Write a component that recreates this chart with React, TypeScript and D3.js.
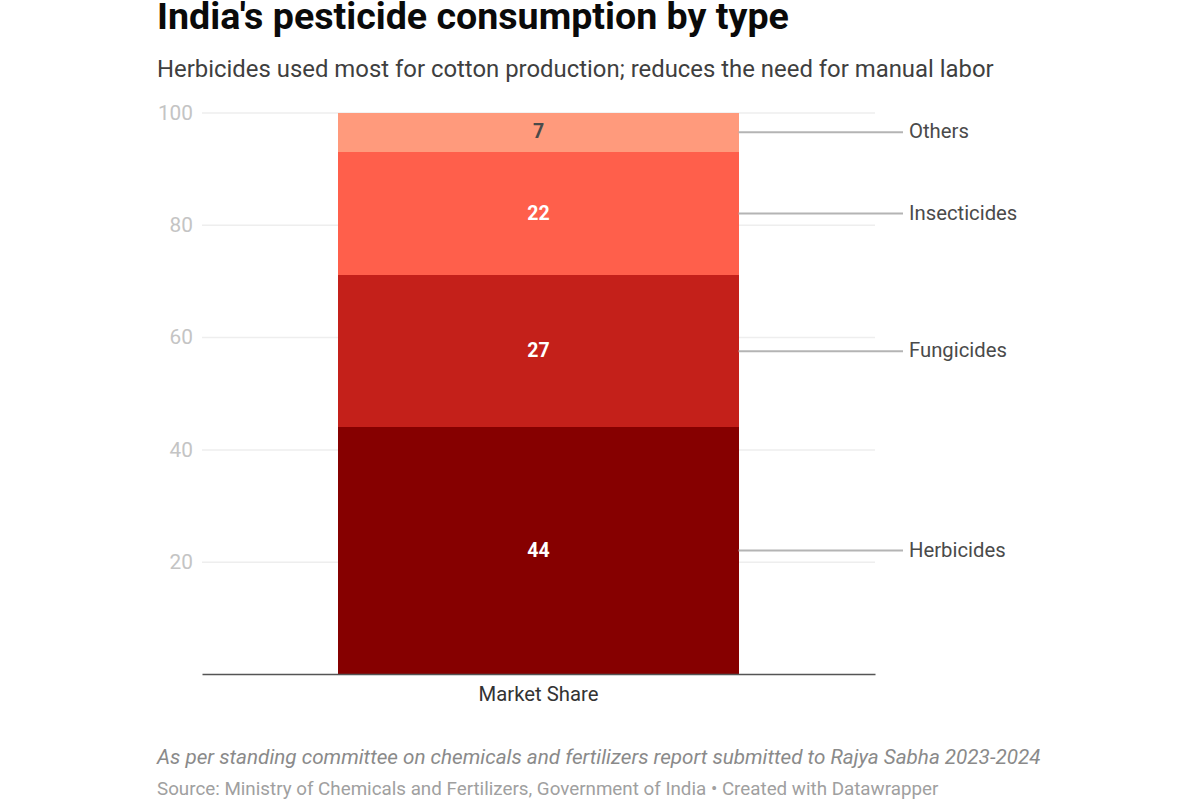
import { useEffect, useRef } from 'react';
import * as d3 from 'd3';

const types = ['Herbicides', 'Fungicides', 'Insecticides', 'Others'];
const shares = [44, 27, 22, 7];
const colors = ['#860000', '#c4201a', '#ff5f4b', '#ff9a7c'];
const valueColors = ['#ffffff', '#ffffff', '#ffffff', '#4a4a4a'];
const yTicks = [20, 40, 60, 80, 100];
const category = 'Market Share';

const title = "India's pesticide consumption by type";
const subtitle = 'Herbicides used most for cotton production; reduces the need for manual labor';
const note = 'As per standing committee on chemicals and fertilizers report submitted to Rajya Sabha 2023-2024';
const source = 'Source: Ministry of Chemicals and Fertilizers, Government of India • Created with Datawrapper';

const width = 1200;
const height = 800;
const font = 'Roboto, sans-serif';

const App = () => {
  const svgRef = useRef<SVGSVGElement>(null);

  useEffect(() => {
    if (!svgRef.current) return;
    const svg = d3.select(svgRef.current);
    svg.selectAll('*').remove();

    const plot = { left: 202, right: 875, top: 112.5, bottom: 674 };

    const x = d3
      .scaleBand()
      .domain([category])
      .range([plot.left, plot.right])
      .paddingInner(0)
      .paddingOuter(0.341);
    const y = d3.scaleLinear().domain([0, 100]).range([plot.bottom, plot.top]);

    // Header
    svg.append('text')
      .attr('x', 157).attr('y', 29)
      .attr('font-size', 37.6).attr('font-weight', 700).attr('fill', '#0a0a0a')
      .text(title);
    svg.append('text')
      .attr('x', 157).attr('y', 76.5)
      .attr('font-size', 23.9).attr('fill', '#3f3f3f')
      .text(subtitle);

    // Y axis with gridlines
    const yAxis = d3.axisLeft(y)
      .tickValues(yTicks)
      .tickSize(plot.left - plot.right)
      .tickPadding(9);
    const yGroup = svg.append('g')
      .attr('transform', `translate(${plot.left},0)`)
      .call(yAxis);
    yGroup.select('.domain').remove();
    yGroup.selectAll('line').attr('stroke', '#eeeeee').attr('stroke-width', 1.5);
    yGroup.selectAll('text')
      .attr('font-size', 20.8).attr('font-family', font).attr('fill', '#c4c4c4');

    // Stacked segments
    const rows = [Object.fromEntries(types.map((t, i) => [t, shares[i]]))];
    const stacked = d3.stack<Record<string, number>>().keys(types)(rows);
    const barX = x(category) as number;
    const barW = x.bandwidth();

    stacked.forEach((layer, i) => {
      const [y0, y1] = layer[0];
      const mid = y((y0 + y1) / 2);
      svg.append('rect')
        .attr('x', barX).attr('width', barW)
        .attr('y', y(y1)).attr('height', y(y0) - y(y1))
        .attr('fill', colors[i])
        .attr('shape-rendering', 'crispEdges');
      svg.append('text')
        .attr('x', barX + barW / 2).attr('y', mid - 0.5)
        .attr('dy', '0.35em').attr('text-anchor', 'middle')
        .attr('font-size', 19.5).attr('font-weight', 700)
        .attr('fill', valueColors[i])
        .text(shares[i]);
      svg.append('line')
        .attr('x1', barX + barW).attr('x2', 903)
        .attr('y1', mid).attr('y2', mid)
        .attr('stroke', '#b4b4b4').attr('stroke-width', 2);
      svg.append('text')
        .attr('x', 909).attr('y', mid - 1)
        .attr('dy', '0.35em')
        .attr('font-size', 20.3).attr('fill', '#4a4a4a')
        .text(types[i]);
    });

    // Baseline and category label
    const xAxis = d3.axisBottom(x).tickSize(0).tickPadding(13);
    const xGroup = svg.append('g')
      .attr('transform', `translate(0,${plot.bottom})`)
      .call(xAxis);
    xGroup.select('.domain').attr('stroke', '#555555').attr('stroke-width', 1.5);
    xGroup.selectAll('text')
      .attr('font-size', 20.3).attr('font-family', font).attr('fill', '#333333');

    // Footer
    svg.append('text')
      .attr('x', 157).attr('y', 764)
      .attr('font-size', 20.66).attr('font-style', 'italic').attr('fill', '#8a8a8a')
      .text(note);
    svg.append('text')
      .attr('x', 157).attr('y', 794.5)
      .attr('font-size', 18.8).attr('fill', '#a0a0a0')
      .text(source);
  }, []);

  return (
    <svg
      ref={svgRef}
      width={width}
      height={height}
      fontFamily={font}
      style={{ position: 'absolute', left: 0, top: 0, background: '#fff' }}
    />
  );
};

export default App;
